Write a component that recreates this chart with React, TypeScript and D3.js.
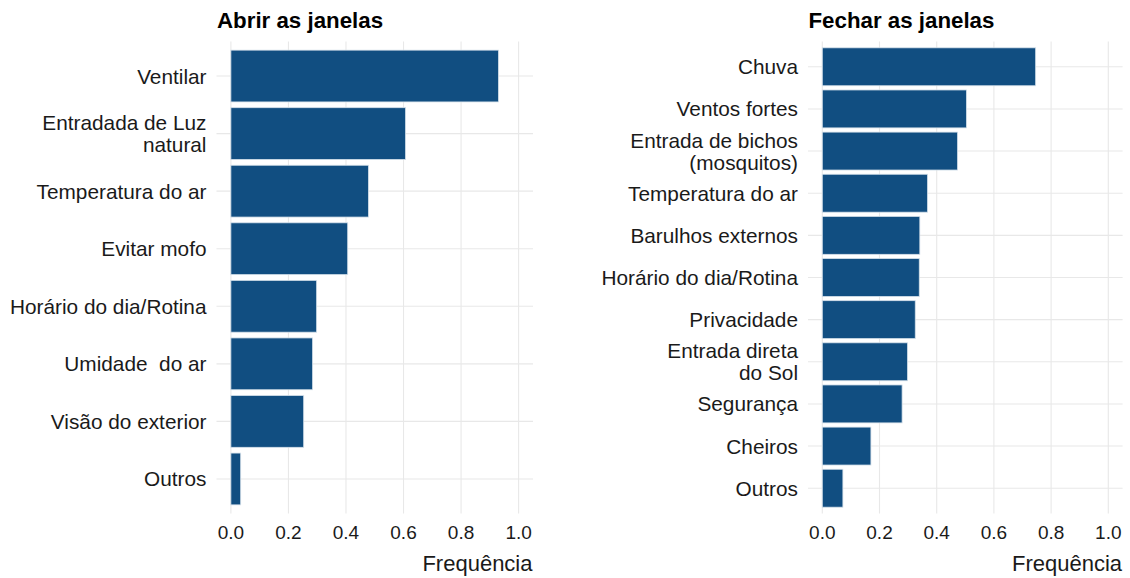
import React from "react";
import * as d3 from "d3";

const abrirCats = [
  "Ventilar",
  "Entradada de Luz\nnatural",
  "Temperatura do ar",
  "Evitar mofo",
  "Horário do dia/Rotina",
  "Umidade  do ar",
  "Visão do exterior",
  "Outros",
];
const abrirVals = [0.93, 0.607, 0.478, 0.406, 0.298, 0.284, 0.253, 0.034];

const fecharCats = [
  "Chuva",
  "Ventos fortes",
  "Entrada de bichos\n(mosquitos)",
  "Temperatura do ar",
  "Barulhos externos",
  "Horário do dia/Rotina",
  "Privacidade",
  "Entrada direta\ndo Sol",
  "Segurança",
  "Cheiros",
  "Outros",
];
const fecharVals = [0.746, 0.504, 0.473, 0.368, 0.341, 0.339, 0.325, 0.298, 0.279, 0.17, 0.072];

const xTicks = [0, 0.2, 0.4, 0.6, 0.8, 1.0];
const xTitle = "Frequência";

const FONT = "'Liberation Sans', Arial, sans-serif";
const BAR = "#114E81";
const GRID = "#E8E8E8";
const TXT = "#1A1A1A";

type PanelProps = {
  title: string;
  cats: string[];
  vals: number[];
  left: number;
  right: number;
};

function Panel({ title, cats, vals, left, right }: PanelProps) {
  const top = 41.5;
  const bottom = 513.5;
  const x = d3.scaleLinear().domain([-0.05, 1.05]).range([left, right]);
  const y = d3
    .scaleBand<string>()
    .domain(cats)
    .range([top, bottom])
    .paddingInner(0.1)
    .paddingOuter(0.15);
  const lineH = 22;
  const labX = left - 10;
  return (
    <g>
      {xTicks.map((t) => (
        <line key={"g" + t} x1={x(t)} x2={x(t)} y1={top} y2={bottom} stroke={GRID} strokeWidth={1.1} />
      ))}
      {cats.map((c) => {
        const cy = (y(c) as number) + y.bandwidth() / 2;
        return <line key={"h" + c} x1={left} x2={right} y1={cy} y2={cy} stroke={GRID} strokeWidth={1.1} />;
      })}
      {cats.map((c, i) => (
        <rect
          key={"b" + c}
          x={x(0)}
          y={y(c) as number}
          width={x(vals[i]) - x(0)}
          height={y.bandwidth()}
          fill={BAR}
          stroke="#d5e0ea"
          strokeWidth={0.8}
        />
      ))}
      {cats.map((c) => {
        const cy = (y(c) as number) + y.bandwidth() / 2;
        const lines = c.split("\n");
        const start = cy - ((lines.length - 1) * lineH) / 2;
        return (
          <text key={"l" + c} x={labX} textAnchor="end" fontSize={20.8} fill={TXT} style={{ whiteSpace: "pre" }}>
            {lines.map((ln, k) => (
              <tspan key={k} x={labX} y={start + k * lineH} dy="0.36em">
                {ln}
              </tspan>
            ))}
          </text>
        );
      })}
      {xTicks.map((t) => (
        <text key={"t" + t} x={x(t)} y={539} textAnchor="middle" fontSize={19} fill={TXT}>
          {d3.format(".1f")(t)}
        </text>
      ))}
      <text x={right - 0.5} y={571} textAnchor="end" fontSize={22} fill={TXT}>
        {xTitle}
      </text>
      <text x={left + 0.5} y={28} fontSize={22.3} fontWeight="bold" fill="#000">
        {title}
      </text>
    </g>
  );
}

export default function App() {
  return (
    <div style={{ position: "absolute", left: 0, top: 0 }}>
      <svg width={1130} height={578} style={{ display: "block", fontFamily: FONT, background: "#fff" }}>
        <rect width={1130} height={578} fill="#fff" />
        <Panel title="Abrir as janelas" cats={abrirCats} vals={abrirVals} left={216.5} right={533} />
        <Panel title="Fechar as janelas" cats={fecharCats} vals={fecharVals} left={808} right={1122.6} />
      </svg>
    </div>
  );
}
